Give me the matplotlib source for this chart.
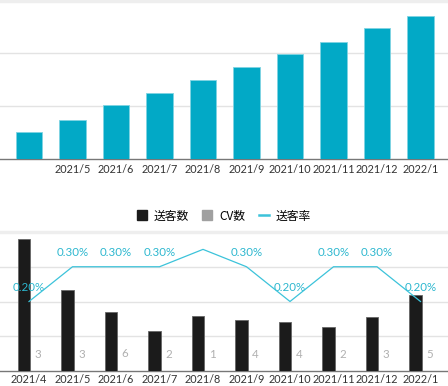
import matplotlib
matplotlib.use("Agg")
import matplotlib.pyplot as plt
from matplotlib.lines import Line2D
import numpy as np

plt.rcParams['font.family'] = ['Lato', 'Noto Sans CJK JP', 'DejaVu Sans']

months = ["2021/4", "2021/5", "2021/6", "2021/7", "2021/8", "2021/9",
          "2021/10", "2021/11", "2021/12", "2022/1"]
cumulative = [50, 73, 101, 124, 149, 173, 198, 222, 247, 271]
sent = [1900, 1165, 850, 575, 790, 735, 705, 635, 780, 1095]
cv = [3, 3, 6, 2, 1, 4, 4, 2, 3, 5]
rate = [0.20, 0.30, 0.30, 0.30, 0.35, 0.30, 0.20, 0.30, 0.30, 0.20]
rate_labels = ["0.20%", "0.30%", "0.30%", "0.30%", "", "0.30%", "0.20%", "0.30%", "0.30%", "0.20%"]
legend_names = ["送客数", "CV数", "送客率"]

W, H = 448, 386
fig = plt.figure(figsize=(W / 100, H / 100), dpi=100)

x = np.arange(len(months))
xlim = (-29 / 43.5, (448 - 29) / 43.5)
grid_c = "#e3e3e3"
tick_c = "#333333"
fs_tick = 7.8
fs = 8.3

# ---- top chart
ax1 = fig.add_axes([0, (H - 158.7) / H, 1, (158.7 - 0.5) / H])
ax1.bar(x, cumulative, width=0.62, color="#02a9c6", edgecolor="#7fd4e2", linewidth=0.6, zorder=3)
ax1.set_xlim(*xlim)
ax1.set_ylim(0, 300)
ax1.set_yticks([100, 200])
ax1.yaxis.grid(True, color=grid_c, linewidth=1, zorder=0)
ax1.axhline(300, color="#eeeeee", linewidth=2.5, zorder=1, clip_on=False)
ax1.set_xticks(x[1:])
ax1.set_xticklabels(months[1:], fontsize=fs_tick, color=tick_c)
ax1.tick_params(axis='x', length=0, pad=4)
ax1.tick_params(axis='y', length=0, labelleft=False)
for s in ["top", "left", "right"]:
    ax1.spines[s].set_visible(False)
ax1.spines["bottom"].set_color("#777777")
ax1.spines["bottom"].set_linewidth(1)

# ---- bottom chart
ax2 = fig.add_axes([0, (H - 371) / H, 1, (371 - 232) / H])
bw = 0.276
ax2.bar(x - 0.115, sent, width=bw, color="#1b1b1b", edgecolor="#666666", linewidth=0.6, zorder=3)
ax2.bar(x + 0.207, cv, width=bw, color="#a0a0a0", zorder=3)
for xi, v in zip(x, cv):
    ax2.annotate(str(v), (xi + 0.207, v), xytext=(0, 8), textcoords="offset points",
                 ha="center", va="bottom", fontsize=fs, color="#b0b0b0")
ax2.set_xlim(*xlim)
ax2.set_ylim(0, 2000)
ax2.set_yticks([500, 1000, 1500])
ax2.yaxis.grid(True, color=grid_c, linewidth=1, zorder=0)
ax2.axhline(2000, color="#eeeeee", linewidth=2.5, zorder=1, clip_on=False)
ax2.set_xticks(x)
ax2.set_xticklabels(months, fontsize=fs_tick, color=tick_c)
ax2.tick_params(axis='x', length=0, pad=2)
ax2.tick_params(axis='y', length=0, labelleft=False)
for s in ["top", "left", "right"]:
    ax2.spines[s].set_visible(False)
ax2.spines["bottom"].set_color("#777777")
ax2.spines["bottom"].set_linewidth(1)

ax3 = ax2.twinx()
ax3.plot(x, rate, color="#3cc3da", linewidth=0.9, zorder=5)
for xi, v, lab in zip(x, rate, rate_labels):
    if lab:
        ax3.annotate(lab, (xi, v), xytext=(0, 6), textcoords="offset points",
                     ha="center", va="bottom", fontsize=fs, color="#2cb7cf")
ax3.set_ylim(0, 0.4)
ax3.set_xlim(*xlim)
ax3.axis("off")

handles = [
    Line2D([], [], marker='s', linestyle='none', color="#1b1b1b", markersize=7),
    Line2D([], [], marker='s', linestyle='none', color="#a0a0a0", markersize=7),
    Line2D([], [], color="#3cc3da", linewidth=1.8),
]
fig.legend(handles, legend_names, loc="center", bbox_to_anchor=(0.5, (H - 216) / H),
           ncol=3, frameon=False, handlelength=0.8, handletextpad=0.6,
           columnspacing=1.2, prop={'family': ['Noto Sans CJK JP', 'DejaVu Sans'], 'size': 8.5})

fig.savefig("out.png", dpi=100)
